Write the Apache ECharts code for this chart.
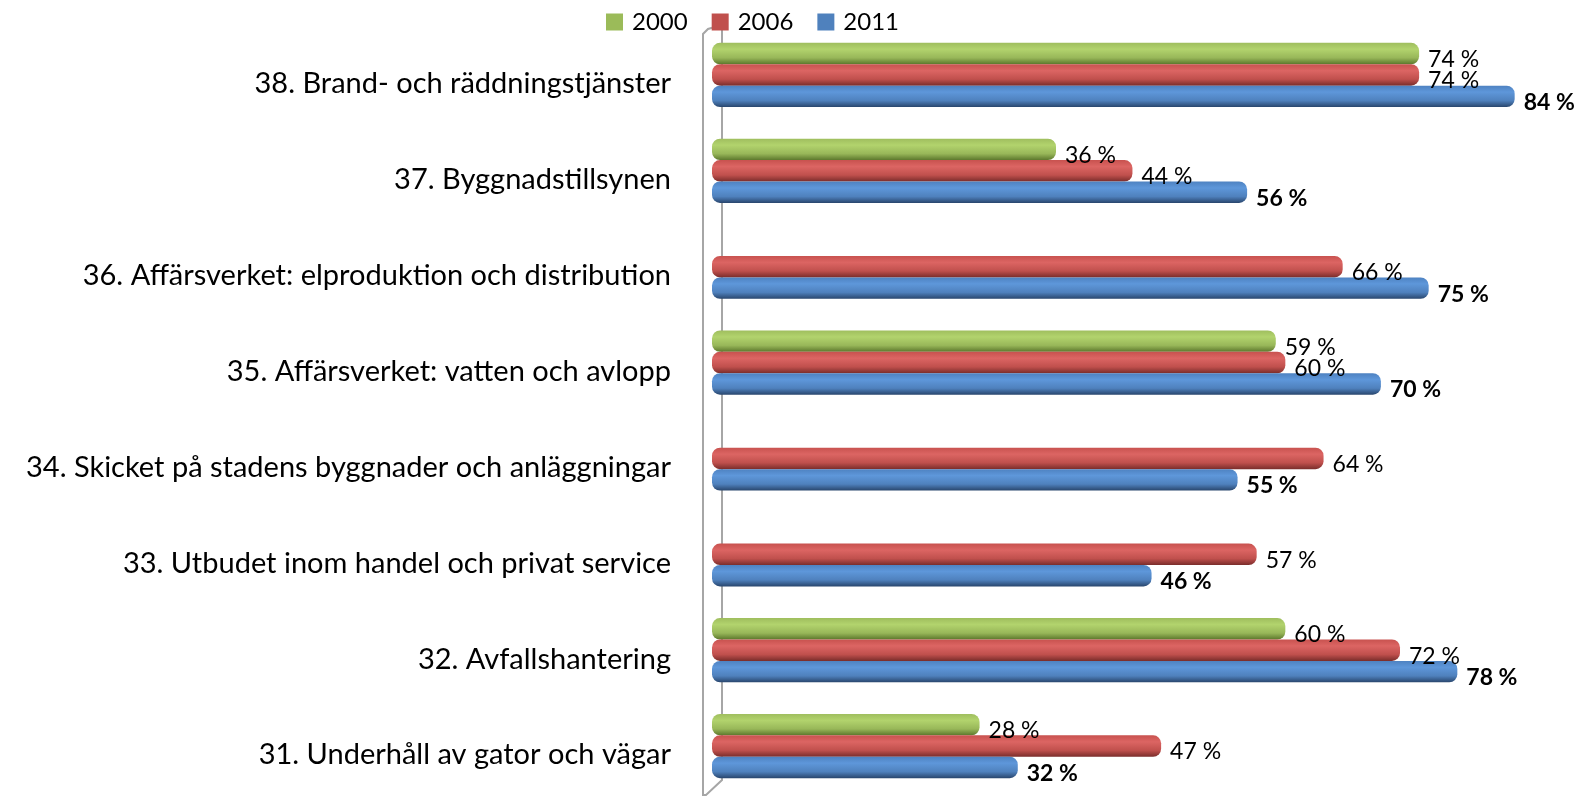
<!DOCTYPE html>
<html>
<head>
<meta charset="utf-8">
<script src="https://cdn.jsdelivr.net/npm/echarts@6/dist/echarts.min.js"></script>
<style>html,body{margin:0;padding:0;background:#fff}#c{width:1584px;height:798px}</style>
</head>
<body>
<div id="c"></div>
<script>
const categories = [
  '38. Brand- och räddningstjänster',
  '37. Byggnadstillsynen',
  '36. Affärsverket: elproduktion och distribution',
  '35. Affärsverket: vatten och avlopp',
  '34. Skicket på stadens byggnader och anläggningar',
  '33. Utbudet inom handel och privat service',
  '32. Avfallshantering',
  '31. Underhåll av gator och vägar'
];
const seriesNames = ['2000', '2006', '2011'];
const values2000 = [74, 36, null, 59, null, null, 60, 28];
const values2006 = [74, 44, 66, 60, 64, 57, 72, 47];
const values2011 = [84, 56, 75, 70, 55, 46, 78, 32];

const FONT = 'Lato, "Open Sans", sans-serif';
const GL = 712, GT = 27, GB = 4, GR = 12;

function grad(c0, c1, c2, c3) {
  return new echarts.graphic.LinearGradient(0, 0, 0, 1, [
    {offset: 0, color: c0}, {offset: 0.3, color: c1}, {offset: 0.7, color: c2}, {offset: 1, color: c3}
  ]);
}
const colors = ['#9BBB59', '#C0504D', '#4F81BD'];
const fills = [
  grad('#9fbe5e', '#b2d36d', '#98b759', '#5c772c'),
  grad('#c8524f', '#dc6563', '#c0504d', '#7a2d2b'),
  grad('#4e82c1', '#5e97da', '#4f81bd', '#29466d')
];
const dataSets = [values2000, values2006, values2011];

const chart = echarts.init(document.getElementById('c'));
chart.setOption({
  animation: false,
  color: colors,
  legend: {
    top: 5, left: 601, itemWidth: 17, itemHeight: 17, itemGap: 24,
    icon: 'rect',
    textStyle: {fontFamily: FONT, fontSize: 24, color: '#000', padding: [0, 0, 0, 4]},
    data: seriesNames.map((n, i) => ({name: n, itemStyle: {color: colors[i]}}))
  },
  grid: {left: GL, top: GT, bottom: GB, right: GR, containLabel: false},
  xAxis: {
    type: 'value', min: 0, max: 90, show: false
  },
  yAxis: {
    type: 'category', data: categories, inverse: true,
    axisLine: {show: false}, axisTick: {show: false},
    axisLabel: {fontFamily: FONT, fontSize: 29, color: '#000', margin: 41,
      verticalAlign: 'top', lineHeight: 18}
  },
  graphic: [
    {type: 'polyline', z: 0, shape: {points: [[722, 28], [722, 780], [706, 795], [703, 795], [703, 34], [708, 29], [715, 27]]},
     style: {stroke: '#a6a6a6', lineWidth: 2, fill: null}}
  ],
  series: dataSets.map((d, i) => ({
    name: seriesNames[i], type: 'bar', data: d,
    barGap: '0%', barCategoryGap: '33%', z: 3,
    itemStyle: {color: fills[i], borderRadius: 8},
    label: {
      show: true, position: 'right', distance: 9, offset: [0, 6],
      formatter: p => p.value + ' %',
      fontFamily: FONT, fontSize: 23, color: '#000',
      fontWeight: i === 2 ? 'bold' : 'normal'
    }
  }))
});
</script>
</body>
</html>
